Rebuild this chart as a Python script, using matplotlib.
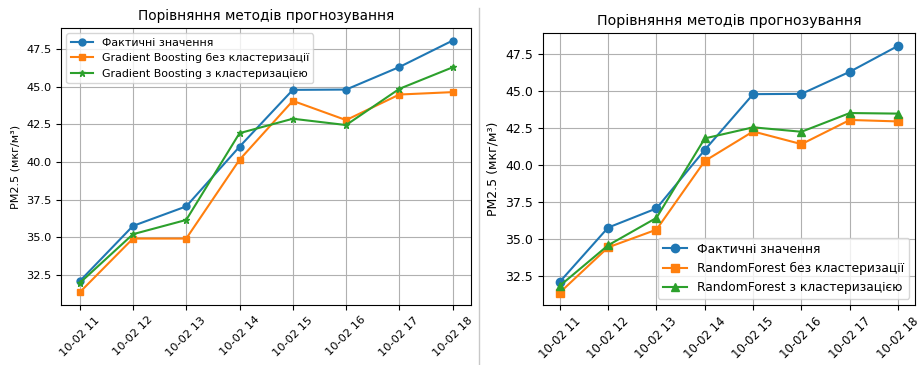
import matplotlib
matplotlib.use('Agg')
import matplotlib.pyplot as plt
from matplotlib.lines import Line2D

hours = ['10-02 11', '10-02 12', '10-02 13', '10-02 14',
         '10-02 15', '10-02 16', '10-02 17', '10-02 18']

actual = [32.07, 35.75, 37.05, 41.02, 44.80, 44.82, 46.32, 48.08]

gb_no_clust = [31.33, 34.91, 34.91, 40.15, 44.07, 42.79, 44.49, 44.65]
gb_clust = [31.95, 35.20, 36.15, 41.92, 42.88, 42.46, 44.87, 46.30]

rf_no_clust = [31.34, 34.41, 35.61, 40.27, 42.27, 41.41, 43.05, 42.95]
rf_clust = [31.80, 34.55, 36.41, 41.80, 42.55, 42.25, 43.52, 43.48]

title = 'Порівняння методів прогнозування'
ylabel = 'PM2.5 (мкг/м³)'
yticks = [32.5, 35.0, 37.5, 40.0, 42.5, 45.0, 47.5]

fig = plt.figure(figsize=(9.2, 3.65), dpi=100)
x = list(range(len(hours)))

# left: gradient boosting
ax1 = fig.add_axes([0.0663, 0.1644, 0.446, 0.759])
ax1.plot(x, actual, marker='o', markersize=5, label='Фактичні значення')
ax1.plot(x, gb_no_clust, marker='s', markersize=5, label='Gradient Boosting без кластеризації')
ax1.plot(x, gb_clust, marker='*', markersize=5, label='Gradient Boosting з кластеризацією')
ax1.set_xticks(x)
ax1.set_xticklabels(hours, rotation=45, fontsize=8.2)
ax1.tick_params(axis='y', labelsize=8.2)
ax1.set_yticks(yticks)
ax1.set_ylabel(ylabel, fontsize=8)
ax1.set_title(title, fontsize=9.8)
ax1.grid(True)
ax1.legend(loc='upper left', fontsize=7.9)

# right: random forest
ax2 = fig.add_axes([0.590, 0.1644, 0.4047, 0.744])
ax2.plot(x, actual, marker='o', markersize=6, label='Фактичні значення')
ax2.plot(x, rf_no_clust, marker='s', markersize=6, label='RandomForest без кластеризації')
ax2.plot(x, rf_clust, marker='^', markersize=6, label='RandomForest з кластеризацією')
ax2.set_xticks(x)
ax2.set_xticklabels(hours, rotation=45, fontsize=8.4)
ax2.tick_params(axis='y', labelsize=9)
ax2.set_yticks(yticks)
ax2.set_ylabel(ylabel, fontsize=9)
ax2.set_title(title, fontsize=10.2)
ax2.grid(True)
ax2.legend(loc='lower right', fontsize=8.8)

# thin divider between the two charts
fig.add_artist(Line2D([0.5207, 0.5207], [0.0, 0.978], transform=fig.transFigure,
                      color='#c8c8c8', linewidth=1))

fig.savefig('out.png', dpi=100)
